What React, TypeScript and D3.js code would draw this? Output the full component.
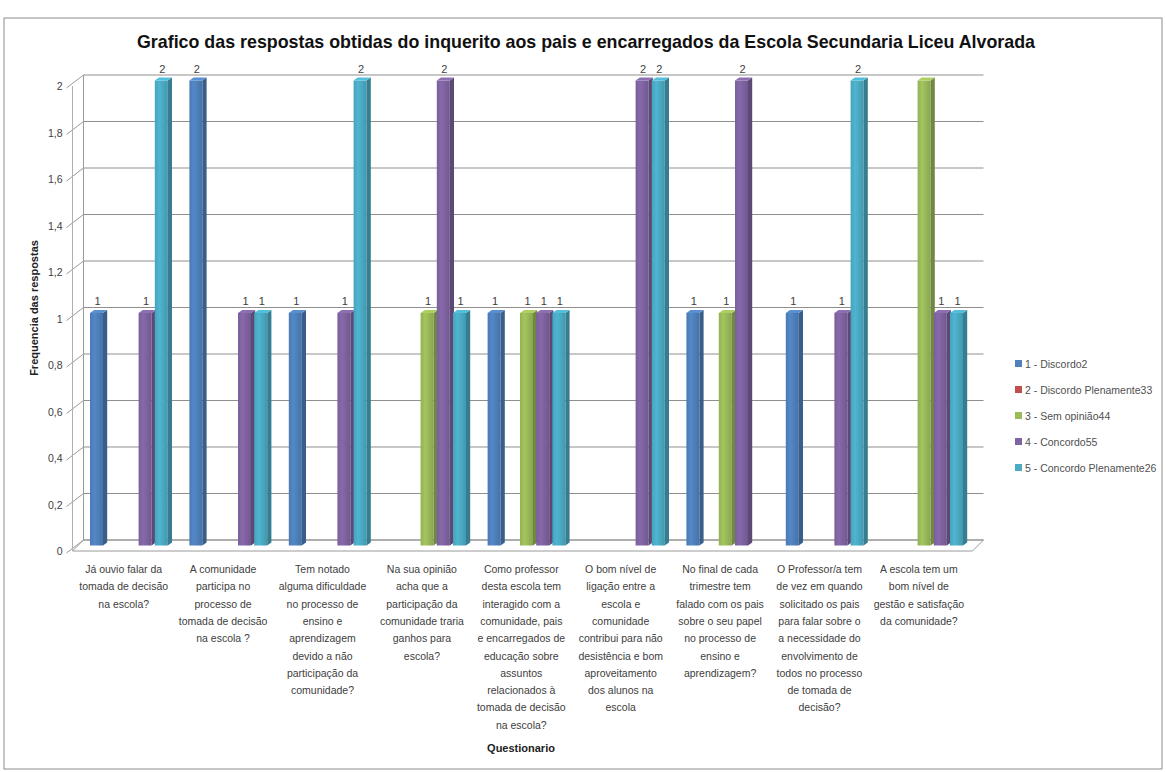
import React from "react";
import * as d3 from "d3";

const title =
  "Grafico das respostas obtidas do inquerito aos pais e encarregados da Escola Secundaria Liceu Alvorada";
const yAxisTitle = "Frequencia das respostas";
const xAxisTitle = "Questionario";

const categoryLines: string[][] = [
  ["Já ouvio falar da", "tomada de decisão", "na escola?"],
  ["A comunidade", "participa no", "processo de", "tomada de decisão", "na  escola ?"],
  ["Tem notado", "alguma dificuldade", "no processo de", "ensino e", "aprendizagem", "devido a não", "participação da", "comunidade?"],
  ["Na sua opinião", "acha que a", "participação da", "comunidade traria", "ganhos para", "escola?"],
  ["Como professor", "desta escola tem", "interagido com a", "comunidade, pais", "e encarregados de", "educação sobre", "assuntos", "relacionados à", "tomada de decisão", "na escola?"],
  ["O bom nível de", "ligação entre a", "escola e", "comunidade", "contribui para não", "desistência e bom", "aproveitamento", "dos alunos na", "escola"],
  ["No final de cada", "trimestre tem", "falado com os pais", "sobre o seu papel", "no processo de", "ensino e", "aprendizagem?"],
  ["O Professor/a tem", "de vez em quando", "solicitado os pais", "para falar sobre o", "a necessidade do", "envolvimento de", "todos no processo", "de tomada de", "decisão?"],
  ["A escola tem um", "bom nível de", "gestão e satisfação", "da comunidade?"],
];

const seriesNames = [
  "1 - Discordo2",
  "2 - Discordo Plenamente33",
  "3 - Sem opinião44",
  "4 - Concordo55",
  "5 - Concordo Plenamente26",
];
const seriesColors = ["#4F81BD", "#C0504D", "#9BBB59", "#8064A2", "#4BACC6"];

const discordo = [1, 2, 1, 0, 1, 0, 1, 1, 0];
const discordoPlenamente = [0, 0, 0, 0, 0, 0, 0, 0, 0];
const semOpiniao = [0, 0, 0, 1, 1, 0, 1, 0, 2];
const concordo = [1, 1, 1, 2, 1, 2, 2, 1, 1];
const concordoPlenamente = [2, 1, 2, 1, 1, 2, 0, 2, 1];
const seriesValues = [discordo, discordoPlenamente, semOpiniao, concordo, concordoPlenamente];

// labels not shown in the original (category index, series index)
const hiddenLabels: [number, number][] = [[8, 2]];

const yTicks = [0, 0.2, 0.4, 0.6, 0.8, 1, 1.2, 1.4, 1.6, 1.8, 2];

const FONT = "'Liberation Sans Narrow', 'Arial Narrow', 'Liberation Sans', Arial, sans-serif";

export default function App() {
  const W = 1166;
  const H = 772;
  const HALF = 5.5; // half depth offset
  const x0 = d3.scaleBand<number>().domain(d3.range(categoryLines.length)).range([78, 972.6]);
  const x1 = d3.scaleBand<number>().domain(d3.range(seriesNames.length)).range([12, 93]);
  const y = d3.scaleLinear().domain([0, 2]).range([545.5, 80.5]);
  const yB = (v: number) => y(v) - HALF;
  const yF = (v: number) => y(v) + HALF;
  const fmt = (v: number) => d3.format(".1~f")(v).replace(".", ",");

  const backL = 83.5, backR = 983.5, frontL = 72.5, frontR = 972.5;
  const faceW = 13, sideDX = 4.2, sideDY = 3;

  const shade = (c: string, k: number) => d3.color(c)!.darker(k).formatHex();
  const light = (c: string, k: number) => d3.color(c)!.brighter(k).formatHex();

  const bars: JSX.Element[] = [];
  const labels: JSX.Element[] = [];
  categoryLines.forEach((_, i) => {
    seriesValues.forEach((vals, j) => {
      const v = vals[i];
      if (!v) return;
      const xl = (x0(i) as number) + (x1(j) as number);
      const yt = y(v);
      const yb = y(0);
      const c = seriesColors[j];
      bars.push(
        <g key={`b${i}-${j}`}>
          <rect x={xl} y={yt} width={faceW} height={yb - yt} fill={`url(#grad${j})`} />
          <polygon
            points={`${xl + faceW},${yt} ${xl + faceW + sideDX},${yt - sideDY} ${xl + faceW + sideDX},${yb - sideDY} ${xl + faceW},${yb}`}
            fill={shade(c, 0.9)}
          />
          <polygon
            points={`${xl},${yt} ${xl + faceW},${yt} ${xl + faceW + sideDX},${yt - sideDY} ${xl + sideDX},${yt - sideDY}`}
            fill={light(c, 0.3)}
          />
        </g>
      );
      if (!hiddenLabels.some(([a, b]) => a === i && b === j)) {
        labels.push(
          <text
            key={`l${i}-${j}`}
            x={xl + faceW / 2 + 1}
            y={yt - 8}
            textAnchor="middle"
            fontSize={11}
            fill="#404040"
            fontFamily={FONT}
          >
            {v}
          </text>
        );
      }
    });
  });

  return (
    <svg
      width={W}
      height={H}
      style={{ position: "absolute", left: 0, top: 0, background: "#fff" }}
    >
      <defs>
        {seriesColors.map((c, j) => (
          <linearGradient key={j} id={`grad${j}`} x1="0" x2="1" y1="0" y2="0">
            <stop offset="0" stopColor={shade(c, 0.15)} />
            <stop offset="0.35" stopColor={light(c, 0.15)} />
            <stop offset="1" stopColor={shade(c, 0.35)} />
          </linearGradient>
        ))}
      </defs>
      <rect x={4} y={18} width={1158} height={751} fill="#fff" stroke="#8c8c8c" strokeWidth={1} />

      <text
        x={586}
        y={48}
        textAnchor="middle"
        fontSize={19}
        fontWeight="bold"
        fontFamily={FONT}
        fill="#111"
        textLength={898}
        lengthAdjust="spacingAndGlyphs"
      >
        {title}
      </text>

      {/* floor */}
      <polygon
        points={`${frontL},${yF(0)} ${frontR},${yF(0)} ${backR},${yB(0)} ${backL},${yB(0)}`}
        fill="#fff"
        stroke="#9a9a9a"
        strokeWidth={1}
      />
      {/* back wall gridlines and side wall ticks */}
      {yTicks.map((t) => (
        <g key={`g${t}`}>
          <line x1={backL} x2={backR} y1={yB(t)} y2={yB(t)} stroke="#8f8f8f" strokeWidth={1} />
          <line x1={frontL - 6} x2={backL} y1={yF(t) + 2} y2={yB(t)} stroke="#9a9a9a" strokeWidth={1} />
          <text
            x={frontL - 10}
            y={yF(t) + 4}
            textAnchor="end"
            fontSize={10.5}
            fill="#404040"
            fontFamily={FONT}
          >
            {fmt(t)}
          </text>
        </g>
      ))}
      <line x1={backL} x2={backL} y1={yB(0)} y2={yB(2)} stroke="#9a9a9a" />
      <line x1={frontL} x2={frontL} y1={yF(0)} y2={yF(2)} stroke="#b0b0b0" />

      {bars}
      {labels}

      {/* category labels */}
      {categoryLines.map((lines, i) => {
        const cx = (x0(i) as number) + x0.bandwidth() / 2 - 4;
        return (
          <text key={`c${i}`} textAnchor="middle" fontSize={10.5} fill="#404040" fontFamily={FONT}>
            {lines.map((ln, k) => (
              <tspan key={k} x={cx} y={573 + k * 17.3}>
                {ln}
              </tspan>
            ))}
          </text>
        );
      })}

      <text x={521} y={752} textAnchor="middle" fontSize={11} fontWeight="bold" fill="#222" fontFamily={FONT}>
        {xAxisTitle}
      </text>
      <text
        transform={`translate(38,308) rotate(-90)`}
        textAnchor="middle"
        fontSize={11}
        fontWeight="bold"
        fill="#222"
        fontFamily={FONT}
      >
        {yAxisTitle}
      </text>

      {/* legend */}
      {seriesNames.map((n, j) => (
        <g key={`lg${j}`} transform={`translate(1015,${364 + j * 26})`}>
          <rect x={0} y={-4} width={7} height={7} fill={seriesColors[j]} />
          <text x={10} y={3.5} fontSize={10.5} fill="#505050" fontFamily={FONT}>
            {n}
          </text>
        </g>
      ))}
    </svg>
  );
}
